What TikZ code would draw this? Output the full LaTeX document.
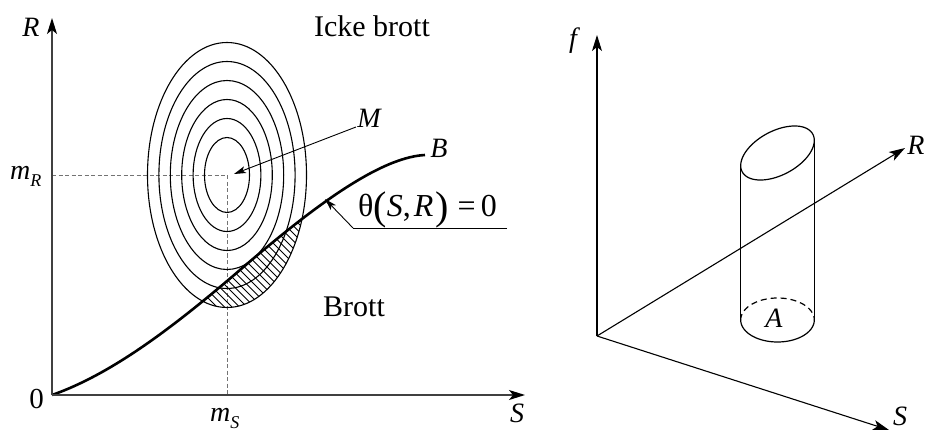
\documentclass[tikz,border=0pt]{standalone}
\usepackage{fontspec}
\setmainfont{Liberation Serif}
\usetikzlibrary{arrows.meta}
\begin{document}
\begin{tikzpicture}[x=1pt,y=-1pt,
  axisL/.style={line width=1.4pt, draw=black!75, -{Stealth[length=16pt,width=10pt,inset=4pt,color=black]}},
  axisR/.style={line width=1.1pt, -{Stealth[length=16pt,width=10pt,inset=4pt]}},
  guide/.style={draw=black!55, line width=0.8pt, dash pattern=on 4pt off 2.5pt},
  contour/.style={line width=1.1pt},
  thinarrow/.style={line width=0.9pt, -{Stealth[length=12pt,width=7pt,inset=3pt]}},
  lbl/.style={font=\fontsize{28}{32}\selectfont\itshape, inner sep=0pt, anchor=base},
  txt/.style={font=\fontsize{30}{34}\selectfont, inner sep=0pt, anchor=base},
  cyl/.style={line width=1.2pt},
]
\useasboundingbox (0,0) rectangle (927,433);

% ---------- left diagram ----------
\coordinate (O) at (52,395);
\coordinate (Rtip) at (52,18);
\coordinate (Stip) at (525,395);
\coordinate (Mc) at (227,175);
\coordinate (mRy) at (52,175);
\coordinate (mSx) at (227,395);
\coordinate (Cmid) at (233,276);
\coordinate (Bend) at (425,155);

\draw[guide] (mRy) -- (Mc) -- (mSx);

% contours
\foreach \r in {37.5,56.5,75.5,94.5,113.5,132.5}
  \draw[contour] (Mc) ellipse [x radius=0.6*\r pt, y radius=\r pt];

% hatch
\begin{scope}
  \clip (Mc) ellipse [x radius=79.5pt, y radius=132.5pt];
  \clip (O) .. controls (112,374) and (173,327) .. (Cmid) .. controls (300,218) and (375,157.5) .. (Bend) -- (425,433) -- (52,433) -- cycle;
  \foreach \i in {0,...,50}
    \draw[line width=1pt] (-50+\i*7.5,100) -- ++(250,250);
\end{scope}

% limit state curve
\draw[line width=2.6pt] (O) .. controls (112,374) and (173,327) .. (Cmid) .. controls (300,218) and (375,157.5) .. (Bend);

\draw[axisL] (O) -- (Rtip);
\draw[axisL] (O) -- (Stip);

\node[lbl] (Rl) at (31,37) {R};
\node[lbl] (Sl) at (517,422) {S};
\node[txt, font=\fontsize{29}{32}\selectfont] (zero) at (36.5,408) {0};
\node[anchor=base west, inner sep=0pt] (mR) at (10,180) {\fontsize{28}{30}\selectfont\itshape m\raisebox{-0.25em}{\fontsize{18}{20}\selectfont R}};
\node[anchor=base west, inner sep=0pt] (mS) at (210,421.7) {\fontsize{28}{30}\selectfont\itshape m\raisebox{-0.25em}{\fontsize{18}{20}\selectfont S}};
\node[txt] (ickebrott) at (372,37) {Icke brott};
\node[txt] (brott) at (354,316) {Brott};
\node[lbl] (Bl) at (439,158) {B};
\node[lbl] (Ml) at (369,128) {M};

\coordinate (Mstart) at (356,127);
\coordinate (Mtip) at (234,174);
\draw[thinarrow] (Mstart) -- (Mtip);

\node[anchor=base west, inner sep=0pt, font=\fontsize{32}{34}\selectfont] (theta) at (358,217)
  {θ\raisebox{-0.08em}{\fontsize{40}{40}\selectfont(}\textit{S},\hspace{3pt}\textit{R}\hspace{2pt}\raisebox{-0.08em}{\fontsize{40}{40}\selectfont)}\hspace{9pt}=\hspace{5pt}0};
\coordinate (uL) at (353,228);
\coordinate (uR) at (507,228);
\coordinate (thTip) at (325,199);
\draw[line width=0.9pt] (uR) -- (uL);
\draw[thinarrow] (uL) -- (thTip);

% ---------- right diagram ----------
\coordinate (O2) at (597,336);
\coordinate (fT) at (597,35);
\coordinate (RT) at (905,148);
\coordinate (ST) at (889,430);

\draw[axisR] (O2) -- (fT);
\draw[axisR] (O2) -- (RT);
\draw[axisR] (O2) -- (ST);

\node[lbl] (fl) at (573,48) {f};
\node[lbl] (R2l) at (916,155) {R};
\node[lbl] (S2l) at (900,425) {S};
\node[lbl] (Al) at (774,327) {A};

% cylinder
\coordinate (cTL) at (740.7,165.57);
\coordinate (cTR) at (814.3,140.43);
\coordinate (cBL) at (740.7,320);
\coordinate (cBR) at (814.3,320);
\draw[cyl] plot[domain=0:360, samples=120, smooth] ({777.5+40*cos(\x)*cos(28)-22*sin(\x)*sin(28)},{153-40*cos(\x)*sin(28)-22*sin(\x)*cos(28)}) -- cycle;
\draw[cyl] (cTL) -- (cBL);
\draw[cyl] (cTR) -- (cBR);
\draw[cyl] plot[domain=0:180, samples=60, smooth] ({777.5+36.8*cos(\x)},{320+22*sin(\x)});
\draw[cyl, dash pattern=on 6pt off 4pt] plot[domain=180:360, samples=60, smooth] ({777.5+36.8*cos(\x)},{320+22*sin(\x)});
\end{tikzpicture}
\end{document}
